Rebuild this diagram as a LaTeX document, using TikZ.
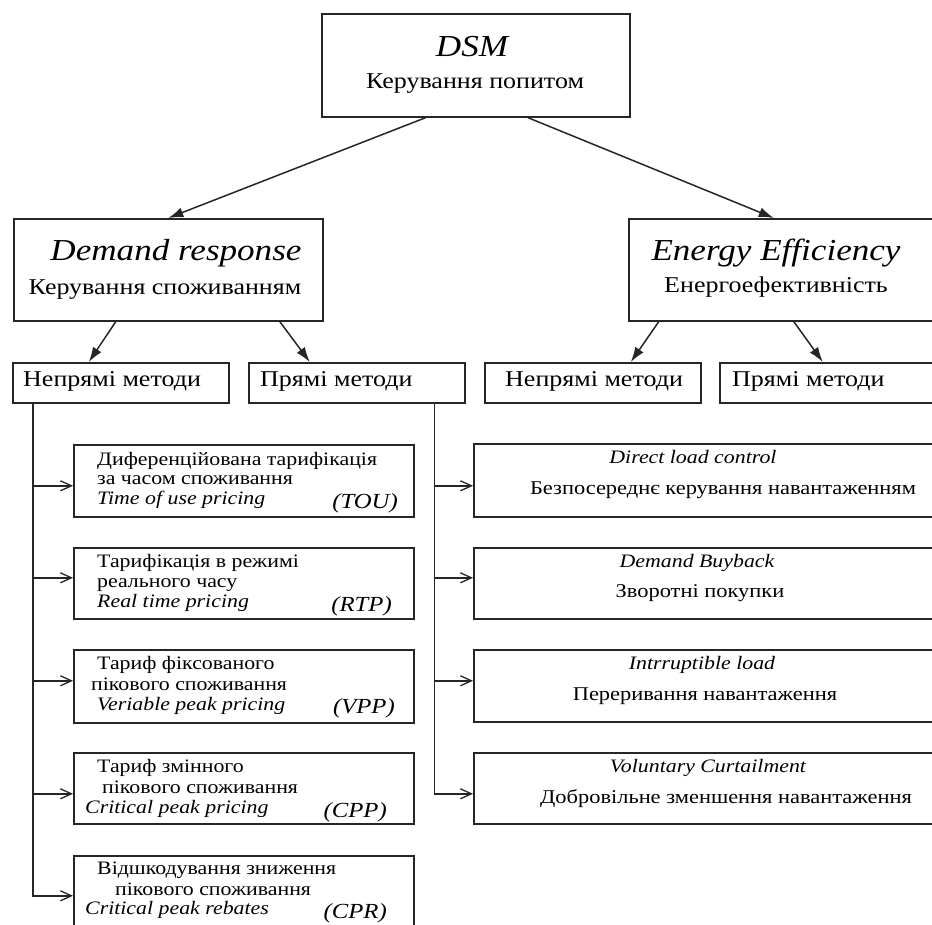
\documentclass[tikz,border=0pt]{standalone}
\usepackage{fontspec}
\setmainfont{Liberation Serif}[FakeStretch=1.15]
\usetikzlibrary{arrows.meta}
\begin{document}
\begin{tikzpicture}[x=1pt,y=-1pt,
  box/.style={draw=black!85, line width=1.6pt, rectangle, inner sep=0pt, anchor=north west},
  ttl/.style={inner sep=0pt, anchor=base, font=\fontsize{30.5}{32}\selectfont\itshape},
  sub/.style={inner sep=0pt, anchor=base, font=\fontsize{22.6}{24}\selectfont},
  meth/.style={inner sep=0pt, anchor=base west, font=\fontsize{22.6}{24}\selectfont},
  sm/.style={inner sep=0pt, anchor=base west, font=\fontsize{19}{20}\selectfont},
  smi/.style={sm, font=\fontsize{19}{20}\selectfont\itshape},
  tag/.style={inner sep=0pt, anchor=base east, font=\fontsize{21.5}{22}\selectfont\itshape},
  rti/.style={inner sep=0pt, anchor=base, font=\fontsize{19}{20}\selectfont\itshape},
  rt/.style={inner sep=0pt, anchor=base, font=\fontsize{19.5}{20}\selectfont},
  big/.style={draw=black!85, line width=1.5pt, -{Latex[length=15pt,width=10pt]}},
  open/.style={draw=black!85, line width=1.5pt, -{Straight Barb[length=11pt,width=10pt,line width=1.3pt]}}
]
\useasboundingbox (0,0) rectangle (932,924);

% boxes
\node[box, minimum width=308pt, minimum height=103pt] (dsm) at (321,13) {};
\node[box, minimum width=309pt, minimum height=102pt] (dr) at (13,218) {};
\node[box, minimum width=307pt, minimum height=102pt] (ee) at (628,218) {};
\node[box, minimum width=216pt, minimum height=40pt] (dri) at (12,362) {};
\node[box, minimum width=216pt, minimum height=40pt] (drd) at (248,362) {};
\node[box, minimum width=216pt, minimum height=40pt] (eei) at (484,362) {};
\node[box, minimum width=216pt, minimum height=40pt] (eed) at (719,362) {};
\node[box, minimum width=340pt, minimum height=72pt] (tou) at (73,444) {};
\node[box, minimum width=340pt, minimum height=71pt] (rtp) at (73,547) {};
\node[box, minimum width=340pt, minimum height=73pt] (vpp) at (73,649) {};
\node[box, minimum width=340pt, minimum height=71pt] (cpp) at (73,752) {};
\node[box, minimum width=340pt, minimum height=72pt] (cpr) at (73,855) {};
\node[box, minimum width=462pt, minimum height=73pt] (dlc) at (473,443) {};
\node[box, minimum width=462pt, minimum height=71pt] (dbb) at (473,547) {};
\node[box, minimum width=462pt, minimum height=72pt] (il) at (473,649) {};
\node[box, minimum width=462pt, minimum height=71pt] (vc) at (473,752) {};

% titles
\node[ttl] (t1) at (472,56) {DSM};
\node[sub] (t2) at (475,88) {Керування попитом};
\node[ttl] (t3) at (176,260) {Demand response};
\node[sub] (t4) at (165,294) {Керування споживанням};
\node[ttl] (t5) at (776,260) {Energy Efficiency};
\node[sub] (t6) at (776,292) {Енергоефективність};

% method labels
\node[meth] (m1) at (23,386) {Непрямі методи};
\node[meth] (m2) at (260,386) {Прямі методи};
\node[meth] (m3) at (505,386) {Непрямі методи};
\node[meth] (m4) at (732,386) {Прямі методи};

% left boxes text
\node[sm] (a1) at (97,465) {Диференційована тарифікація};
\node[sm] (a2) at (97,484) {за часом споживання};
\node[smi] (a3) at (97,504) {Time of use pricing};
\node[tag] (a4) at (398,508) {(TOU)};

\node[sm] (b1) at (97,567) {Тарифікація в режимі};
\node[sm] (b2) at (97,587) {реального часу};
\node[smi] (b3) at (97,607) {Real time pricing};
\node[tag] (b4) at (392,611) {(RTP)};

\node[sm] (c1) at (97,669) {Тариф фіксованого};
\node[sm] (c2) at (91,690) {пікового споживання};
\node[smi] (c3) at (97,710) {Veriable peak pricing};
\node[tag] (c4) at (395,713) {(VPP)};

\node[sm] (d1) at (97,772) {Тариф змінного};
\node[sm] (d2) at (102,793) {пікового споживання};
\node[smi] (d3) at (85,813) {Critical peak pricing};
\node[tag] (d4) at (387,817) {(CPP)};

\node[sm] (e1) at (97,874) {Відшкодування зниження};
\node[sm] (e2) at (115,895) {пікового споживання};
\node[smi] (e3) at (85,914) {Critical peak rebates};
\node[tag] (e4) at (387,918) {(CPR)};

% right boxes text
\node[rti] (r1) at (693,463) {Direct load control};
\node[rt] (r2) at (723,494) {Безпосереднє керування навантаженням};
\node[rti] (r3) at (697,567) {Demand Buyback};
\node[rt] (r4) at (700,597) {Зворотні покупки};
\node[rti] (r5) at (702,669) {Intrruptible load};
\node[rt] (r6) at (705,700) {Переривання навантаження};
\node[rti] (r7) at (708,772) {Voluntary Curtailment};
\node[rt] (r8) at (726,803) {Добровільне зменшення навантаження};

% top arrows
\draw[big] ([xshift=-50pt]dsm.south) -- (dr.north);
\draw[big] ([xshift=52pt]dsm.south) -- ([xshift=-8.5pt]ee.north);
\draw[big] ([xshift=-52.5pt]dr.south) -- ([xshift=-32pt]dri.north);
\draw[big] ([xshift=111.5pt]dr.south) -- ([xshift=-47pt]drd.north);
\draw[big] ([xshift=-123.5pt]ee.south) -- ([xshift=38pt]eei.north);
\draw[big] ([xshift=11.5pt]ee.south) -- ([xshift=-5pt]eed.north);

% left spine
\draw[open] ([xshift=21pt]dri.south west) |- ([yshift=-5pt]tou.west);
\draw[open] ([xshift=21pt]dri.south west) |- ([yshift=5.5pt]rtp.west);
\draw[open] ([xshift=21pt]dri.south west) |- ([yshift=5.5pt]vpp.west);
\draw[open] ([xshift=21pt]dri.south west) |- ([yshift=-5.5pt]cpp.west);
\draw[open] ([xshift=21pt]dri.south west) |- ([yshift=-4pt]cpr.west);

% right spine
\draw[open] ([xshift=-31pt]drd.south east) |- ([yshift=-5.5pt]dlc.west);
\draw[open] ([xshift=-31pt]drd.south east) |- ([yshift=5.5pt]dbb.west);
\draw[open] ([xshift=-31pt]drd.south east) |- ([yshift=5pt]il.west);
\draw[open] ([xshift=-31pt]drd.south east) |- ([yshift=-5.5pt]vc.west);
\end{tikzpicture}
\end{document}
